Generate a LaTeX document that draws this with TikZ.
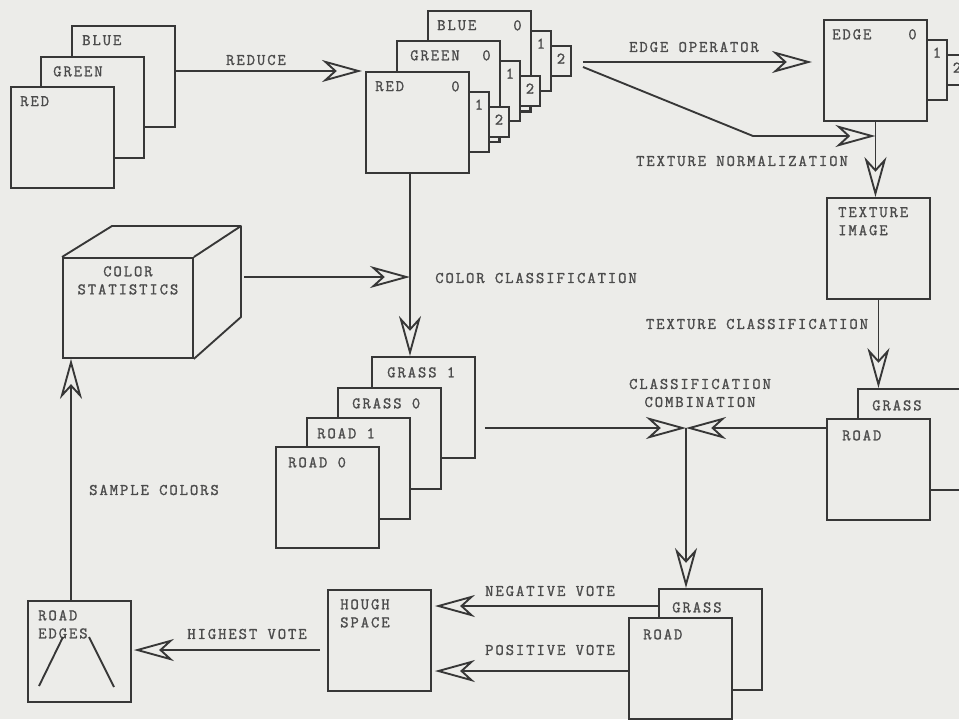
\documentclass[tikz,border=0pt]{standalone}
\usepackage{fontspec}
\setmonofont{Latin Modern Mono}[LetterSpace=12, AutoFakeBold=1.3]
\usetikzlibrary{arrows.meta,positioning}

\definecolor{paper}{RGB}{236,236,233}
\definecolor{ink}{RGB}{55,55,55}

\tikzset{
  plate/.style={draw=ink, fill=paper, line width=1.6pt, minimum width=3.09cm,
    minimum height=3.03cm, anchor=north west, inner sep=0pt},
  tab/.style={plate, minimum width=0.6cm, minimum height=1.8cm},
  subtab/.style={plate, minimum width=0.6cm, minimum height=0.9cm},
  sliver/.style={plate, minimum width=0.3cm, minimum height=0.9cm},
  txt/.style={text=ink!90, font=\ttfamily\bfseries\fontsize{13.8}{15.4}\selectfont, inner sep=0pt},
  tag/.style={txt, align=left},
  wire/.style={draw=ink, line width=1.6pt},
  flow/.style={wire, -{Stealth[open, length=1.2cm, width=0.66cm, inset=0.36cm]}},
}

\begin{document}
\begin{tikzpicture}[x=0.03cm, y=-0.03cm]
  \useasboundingbox (0,0) rectangle (959,719);
  \fill[paper] (0,0) rectangle (959,719);
  \clip (0,0) rectangle (959,719);

  % camera bands
  \node[plate] (inblue) at (71,25) {};
  \node[tag, below right=0.3cm and 0.33cm of inblue.north west] {BLUE};
  \node[plate] (ingreen) at (40,56) {};
  \node[tag, below right=0.3cm and 0.39cm of ingreen.north west] {GREEN};
  \node[plate] (inred) at (10,86) {};
  \node[tag, below right=0.3cm and 0.3cm of inred.north west] {RED};

  % reduced bands, levels 0 1 2
  \node[subtab] (blue2) at (550,45) {};
  \node[txt, below=0.25cm of blue2.north] {2};
  \node[tab] (blue1) at (530,30) {};
  \node[txt, below=0.25cm of blue1.north] {1};
  \node[plate] (blue0) at (427,10) {};
  \node[tag, below right=0.3cm and 0.3cm of blue0.north west] {BLUE};
  \node[tag, below left=0.3cm and 0.3cm of blue0.north east] {0};

  \node[sliver] (greens) at (519,80) {};
  \node[subtab] (green2) at (519,75) {};
  \node[txt, below=0.25cm of green2.north] {2};
  \node[tab] (green1) at (499,60) {};
  \node[txt, below=0.25cm of green1.north] {1};
  \node[plate] (green0) at (396,40) {};
  \node[tag, below right=0.3cm and 0.42cm of green0.north west] {GREEN};
  \node[tag, below left=0.3cm and 0.3cm of green0.north east] {0};

  \node[sliver] (reds) at (488,111) {};
  \node[subtab] (red2) at (488,106) {};
  \node[txt, below=0.25cm of red2.north] {2};
  \node[tab] (red1) at (468,91) {};
  \node[txt, below=0.25cm of red1.north] {1};
  \node[plate] (red0) at (365,71) {};
  \node[tag, below right=0.3cm and 0.3cm of red0.north west] {RED};
  \node[tag, below left=0.3cm and 0.3cm of red0.north east] {0};

  % edge image
  \node[subtab] (edge2) at (946,54) {};
  \node[txt, below=0.25cm of edge2.north] {2};
  \node[tab] (edge1) at (926,39) {};
  \node[txt, below=0.25cm of edge1.north] {1};
  \node[plate] (edge0) at (823,19) {};
  \node[tag, below right=0.3cm and 0.27cm of edge0.north west] {EDGE};
  \node[tag, below left=0.3cm and 0.33cm of edge0.north east] {0};

  \node[plate] (texture) at (826,197) {};
  \node[tag, below right=0.3cm and 0.36cm of texture.north west] {TEXTURE\\IMAGE};

  % texture result
  \node[plate] (tgrass) at (857,388) {};
  \node[tag, below right=0.36cm and 0.45cm of tgrass.north west] {GRASS};
  \node[plate] (troad) at (826,418) {};
  \node[tag, below right=0.36cm and 0.48cm of troad.north west] {ROAD};

  % color result
  \node[plate] (grass1) at (371,356) {};
  \node[tag, below right=0.33cm and 0.48cm of grass1.north west] {GRASS 1};
  \node[plate] (grass0) at (337,387) {};
  \node[tag, below right=0.33cm and 0.45cm of grass0.north west] {GRASS 0};
  \node[plate] (road1) at (306,417) {};
  \node[tag, below right=0.33cm and 0.33cm of road1.north west] {ROAD 1};
  \node[plate] (road0) at (275,446) {};
  \node[tag, below right=0.33cm and 0.39cm of road0.north west] {ROAD 0};

  % color statistics cube
  \node[plate, minimum width=3.9cm, minimum height=3cm] (stats) at (62,257) {};
  \node[tag, align=center, below=0.27cm of stats.north] {COLOR\\STATISTICS};
  \draw[wire, line join=round] (stats.north west) -- ++(50,-31) -- ++(129,0) coordinate (back)
    -- ++(0,91) -- (stats.south east);
  \draw[wire] (stats.north east) -- (back);

  % combined result
  \node[plate] (bgrass) at (658,588) {};
  \node[tag, below right=0.42cm and 0.42cm of bgrass.north west] {GRASS};
  \node[plate] (broad) at (628,617) {};
  \node[tag, below right=0.36cm and 0.45cm of broad.north west] {ROAD};

  \node[plate] (hough) at (327,589) {};
  \node[tag, below right=0.3cm and 0.39cm of hough.north west] {HOUGH\\SPACE};

  \node[plate] (redges) at (27,600) {};
  \node[tag, below right=0.3cm and 0.33cm of redges.north west] {ROAD\\EDGES};
  \draw[wire] (39,686) -- (63,637);
  \draw[wire] (89,637) -- (114,687);

  % helper points
  \coordinate (split) at (583,62);
  \coordinate (bend) at (753,136);
  \coordinate (gx) at (410,0);
  \coordinate (cs) at (0,277);
  \coordinate (comb) at (686,428);
  \coordinate (sx) at (71,0);
  \coordinate (neg) at (0,606);
  \coordinate (pos) at (0,671);
  \coordinate (hv) at (0,650);

  % connectors
  \draw[flow] (inblue.east |- red0.north west) -- ([xshift=-0.09cm]red0.north west);
  \draw[flow] (split) -- ([xshift=-0.33cm]split -| edge0.west);
  \draw[flow] ([yshift=-0.15cm]split) -- (bend) -- (bend -| edge0.south);
  \draw[flow] (edge0.south) -- (edge0.south |- texture.north);
  \draw[flow] (texture.south) -- (texture.south |- tgrass.north);
  \draw[flow] (red0.south -| gx) -- (grass1.north -| gx);
  \draw[flow] ([xshift=0.09cm]back |- cs) -- (cs -| gx);
  \draw[flow] ([xshift=0.27cm]grass1.east |- comb) -- (comb);
  \draw[flow] (troad.west |- comb) -- (comb);
  \draw[flow] (comb) -- (comb |- bgrass.north);
  \draw[flow] (bgrass.west |- neg) -- ([xshift=0.09cm]hough.east |- neg);
  \draw[flow] (broad.west |- pos) -- ([xshift=0.09cm]hough.east |- pos);
  \draw[flow] ([xshift=-0.21cm]hough.west |- hv) -- ([xshift=0.06cm]redges.east |- hv);
  \draw[flow] (redges.north -| sx) -- (stats.south -| sx);

  % connector labels
  \node[txt] (lreduce) at (256,60) {REDUCE};
  \node[txt] (ledge) at (694,47) {EDGE OPERATOR};
  \node[txt] (lnorm) at (742,161) {TEXTURE NORMALIZATION};
  \node[txt] (lcolor) at (536,278) {COLOR CLASSIFICATION};
  \node[txt] (ltex) at (757,324) {TEXTURE CLASSIFICATION};
  \node[txt, align=center] (lcomb) at (700,393) {CLASSIFICATION\\COMBINATION};
  \node[txt] (lsample) at (154,490) {SAMPLE COLORS};
  \node[txt] (lhigh) at (247,634) {HIGHEST VOTE};
  \node[txt] (lneg) at (550,591) {NEGATIVE VOTE};
  \node[txt] (lpos) at (550,650) {POSITIVE VOTE};
\end{tikzpicture}
\end{document}
